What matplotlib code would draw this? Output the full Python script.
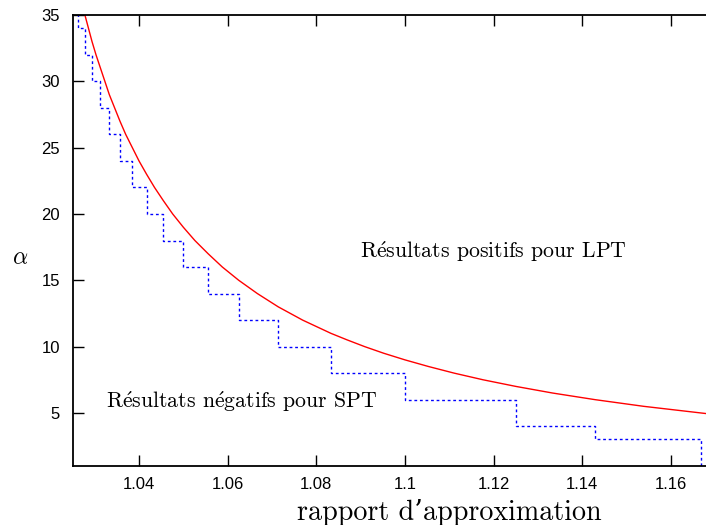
import numpy as np
import matplotlib
matplotlib.use("Agg")
import matplotlib.pyplot as plt

plt.rcParams['mathtext.fontset'] = 'cm'

# courbe LPT (rouge) : rapport d'approximation -> alpha
lpt_ratio = [1.0278, 1.0286, 1.0294, 1.0303, 1.0313, 1.0323, 1.0333, 1.0345,
             1.0357, 1.0370, 1.0385, 1.0400, 1.0417, 1.0435, 1.0455, 1.0476,
             1.0500, 1.0526, 1.0556, 1.0588, 1.0625, 1.0667, 1.0714, 1.0769,
             1.0833, 1.0870, 1.0909, 1.0952, 1.1000, 1.1053, 1.1111, 1.1176,
             1.1250, 1.1333, 1.1429, 1.1538, 1.1667, 1.1680]
lpt_alpha = [35, 34, 33, 32, 31, 30, 29, 28,
             27, 26, 25, 24, 23, 22, 21, 20,
             19, 18, 17, 16, 15, 14, 13, 12,
             11, 10.5, 10, 9.5, 9, 8.5, 8, 7.5,
             7, 6.5, 6, 5.5, 5, 4.95]

# escalier SPT (bleu pointille) : bords des marches et niveaux
spt_ratio = [1.0250, 1.0263, 1.0278, 1.0294, 1.0313, 1.0333, 1.0357, 1.0385,
             1.0417, 1.0455, 1.0500, 1.0556, 1.0625, 1.0714, 1.0833, 1.1000,
             1.1250, 1.1429, 1.1667]
spt_alpha = [36, 34, 32, 30, 28, 26, 24, 22,
             20, 18, 16, 14, 12, 10, 8, 6,
             4, 3, 3]
spt_end = 0  # la derniere marche descend jusqu'en bas

xticks = [1.04, 1.06, 1.08, 1.1, 1.12, 1.14, 1.16]
xticklabels = ["1.04", "1.06", "1.08", "1.1", "1.12", "1.14", "1.16"]
yticks = [5, 10, 15, 20, 25, 30, 35]

fig = plt.figure(figsize=(7.06, 5.25), dpi=100)
ax = fig.add_axes([0.1027, 0.1124, 0.8973, 0.859])

ax.plot(lpt_ratio, lpt_alpha, color='#ff0000', lw=1.0)
ax.step(spt_ratio + [spt_ratio[-1]], spt_alpha + [spt_end], where='post',
        color='#0000ff', lw=1.0, linestyle=(0, (2, 2)))

ax.set_xlim(1.025, 1.1679)
ax.set_ylim(1, 35)
ax.set_xticks(xticks)
ax.set_xticklabels(xticklabels)
ax.set_yticks(yticks)
ax.tick_params(direction='in', length=8, width=1, top=True, right=False,
               labelsize=12, pad=8)
ax.tick_params(axis='y', pad=9)
for lab in ax.get_xticklabels() + ax.get_yticklabels():
    lab.set_family('Liberation Sans')
ax.spines['right'].set_visible(False)
for s in ['left', 'bottom', 'top']:
    ax.spines[s].set_linewidth(1.3)

ax.text(1.0899, 16.68, r"R$\acute{\mathrm{e}}$sultats positifs pour LPT",
        family='cmr10', fontsize=15.7, ha='left', va='baseline')
ax.text(1.0326, 5.4, r"R$\acute{\mathrm{e}}$sultats n$\acute{\mathrm{e}}$gatifs pour SPT",
        family='cmr10', fontsize=15.7, ha='left', va='baseline')

fig.text(20 / 706, 1 - 257 / 525, r"$\alpha$", fontsize=17, ha='center', va='center')
fig.text(449 / 706, 1 - 512 / 525, "rapport d\u2019approximation", family=['cmr10', 'DejaVu Serif'],
         fontsize=20.2, ha='center', va='center')

fig.savefig("out.png", dpi=100)
